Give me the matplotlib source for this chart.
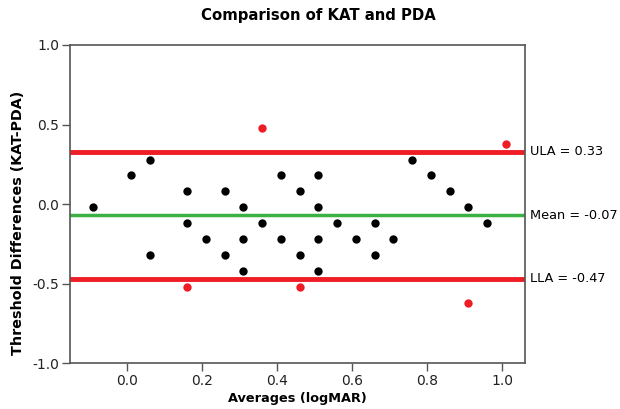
import matplotlib
matplotlib.use("Agg")
import matplotlib.pyplot as plt
import matplotlib.transforms as mtransforms

# Bland-Altman points (average, difference)
black_x = [-0.09, 0.01, 0.06, 0.06, 0.16, 0.16, 0.21, 0.26, 0.26, 0.31, 0.31, 0.31,
           0.36, 0.41, 0.41, 0.46, 0.46, 0.51, 0.51, 0.51, 0.51, 0.56, 0.61, 0.66,
           0.66, 0.71, 0.76, 0.81, 0.86, 0.91, 0.96]
black_y = [-0.02, 0.18, 0.28, -0.32, 0.08, -0.12, -0.22, 0.08, -0.32, -0.02, -0.22, -0.42,
           -0.12, 0.18, -0.22, 0.08, -0.32, 0.18, -0.02, -0.22, -0.42, -0.12, -0.22, -0.12,
           -0.32, -0.22, 0.28, 0.18, 0.08, -0.02, -0.12]
red_x = [0.36, 0.16, 0.46, 0.91, 1.01]
red_y = [0.48, -0.52, -0.52, -0.62, 0.38]

mean_diff = -0.07
ula = 0.33
lla = -0.47

plt.rcParams['font.family'] = ['DejaVu Sans']

fig = plt.figure(figsize=(6.2, 4.09), dpi=100)
ax = fig.add_axes([0.113, 0.112, 0.734, 0.778])

ax.axhline(ula, color='#ee1c25', linewidth=3.5, zorder=1)
ax.axhline(lla, color='#ee1c25', linewidth=3.5, zorder=1)
ax.axhline(mean_diff, color='#3cb043', linewidth=2.5, zorder=1)

ax.scatter(black_x, black_y, s=36, color='black', zorder=3, linewidths=0)
ax.scatter(red_x, red_y, s=36, color='#ee1c25', zorder=3, linewidths=0)

ax.set_xlim(-0.152, 1.061)
ax.set_ylim(-1.0, 1.0)
ax.set_xticks([0.0, 0.2, 0.4, 0.6, 0.8, 1.0])
ax.set_yticks([-1.0, -0.5, 0.0, 0.5, 1.0])
ax.xaxis.set_major_formatter(matplotlib.ticker.FormatStrFormatter('%.1f'))
ax.yaxis.set_major_formatter(matplotlib.ticker.FormatStrFormatter('%.1f'))
ax.tick_params(direction='out', length=6, width=1, pad=2, labelsize=10,
               colors='#555555', labelcolor='#222222')
for sp in ax.spines.values():
    sp.set_color('#555555')
    sp.set_linewidth(1.2)

trans = mtransforms.blended_transform_factory(ax.transAxes, ax.transData)
ax.text(1.011, ula, 'ULA = 0.33', transform=trans, va='center', ha='left', fontsize=9.3)
ax.text(1.011, mean_diff, 'Mean = -0.07', transform=trans, va='center', ha='left', fontsize=9.3)
ax.text(1.011, lla, 'LLA = -0.47', transform=trans, va='center', ha='left', fontsize=9.3)

fig.text(0.513, 0.961, 'Comparison of KAT and PDA', fontsize=10.7, fontweight='bold',
         ha='center', va='center')
ax.set_xlabel('Averages (logMAR)', fontsize=9.3, fontweight='bold', labelpad=3)
ax.set_ylabel('Threshold Differences (KAT-PDA)', fontsize=10.3, fontweight='bold')
ax.yaxis.set_label_coords(-0.098, 0.44)

fig.savefig('out.png', dpi=100)
